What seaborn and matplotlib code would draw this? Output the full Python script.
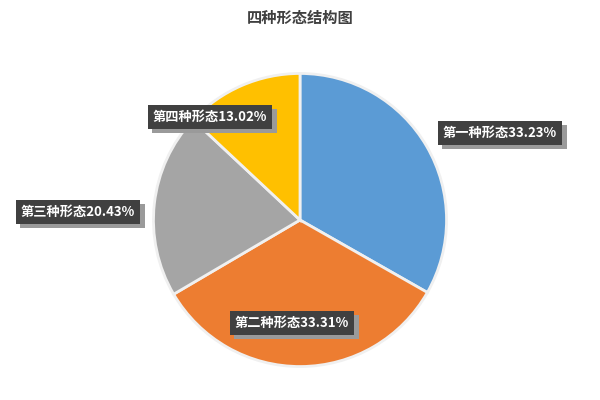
import matplotlib
matplotlib.use("Agg")
import matplotlib.pyplot as plt
import matplotlib.patheffects as pe
import seaborn as sns

sns.set_theme(style="white")
plt.rcParams["font.family"] = ["Noto Sans CJK SC", "DejaVu Sans"]

categories = ["第一种形态", "第二种形态", "第三种形态", "第四种形态"]
shares = [33.23, 33.31, 20.43, 13.02]
colors = ["#5B9BD5", "#ED7D31", "#A5A5A5", "#FFC000"]

# label box centers in pixels (x, y from top)
label_pos = [(500, 133), (292, 323), (78, 212), (210, 117)]

fig = plt.figure(figsize=(6, 4), dpi=100)
ax = fig.add_axes([(300 - 148) / 600, (400 - 220 - 148) / 400, 296 / 600, 296 / 400])
ax.pie(shares, colors=colors, startangle=90, counterclock=False, radius=1,
       wedgeprops=dict(edgecolor="#f0f0f0", linewidth=2))
ax.set_xlim(-1.01, 1.01)
ax.set_ylim(-1.01, 1.01)
ax.axis("off")

fig.text(0.5, 1 - 18 / 400, "四种形态结构图", ha="center", va="center",
         fontsize=11, fontweight="bold", color="#404040")

for (x, y), name, v in zip(label_pos, categories, shares):
    t = fig.text(x / 600, 1 - y / 400, f"{name}{v:.2f}%", ha="center", va="center",
                 fontsize=9.5, fontweight="bold", color="white",
                 bbox=dict(boxstyle="square,pad=0.4", fc="#404040", ec="none"))
    t.get_bbox_patch().set_path_effects(
        [pe.SimplePatchShadow(offset=(3, -3), shadow_rgbFace="#9a9a9a", alpha=1), pe.Normal()])

fig.savefig("out.png", dpi=100)
